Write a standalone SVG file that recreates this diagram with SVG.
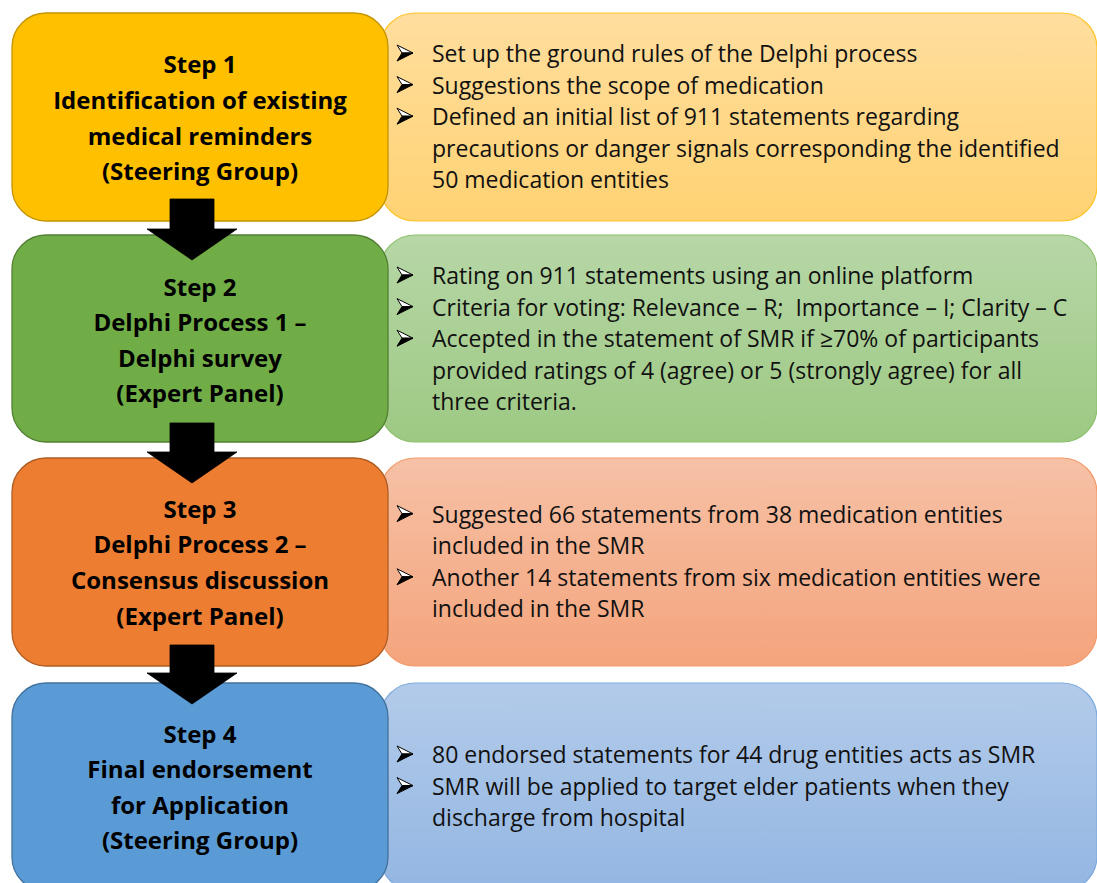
<svg xmlns="http://www.w3.org/2000/svg" width="1097" height="883" viewBox="0 0 1097 883">
  <style>
    .step { stroke-width: 1.3; }
    .notes { stroke-width: 1.2; }
    .title { font-family: "Open Sans", "Liberation Sans", sans-serif; font-weight: bold; font-size: 24px; fill: #000; text-anchor: middle; }
    .body { font-family: "Open Sans", "Liberation Sans", sans-serif; font-size: 23px; fill: #111; white-space: pre; }
    .arrow { fill: #000; stroke: #000; stroke-width: 0.8; }
  </style>
  <defs>
    <linearGradient id="gYellow" x1="0" y1="0" x2="0" y2="1">
      <stop offset="0" stop-color="#FFDE9E"/>
      <stop offset="1" stop-color="#FFD273"/>
    </linearGradient>
    <linearGradient id="gGreen" x1="0" y1="0" x2="0" y2="1">
      <stop offset="0" stop-color="#B7D7A7"/>
      <stop offset="1" stop-color="#9DC983"/>
    </linearGradient>
    <linearGradient id="gOrange" x1="0" y1="0" x2="0" y2="1">
      <stop offset="0" stop-color="#F6C1A6"/>
      <stop offset="1" stop-color="#F4A47C"/>
    </linearGradient>
    <linearGradient id="gBlue" x1="0" y1="0" x2="0" y2="1">
      <stop offset="0" stop-color="#B3CBEA"/>
      <stop offset="1" stop-color="#93B6E2"/>
    </linearGradient>
    <!-- 3D arrowhead bullet, drawn with its baseline at y=0 -->
    <g id="bullet">
      <polygon points="0,-16 16,-8 5,-8" fill="#FFFFFF" stroke="#000" stroke-width="1" stroke-linejoin="round"/>
      <polygon points="5,-8 16,-8 0,0" fill="#000" stroke="#000" stroke-width="1" stroke-linejoin="round"/>
    </g>
  </defs>

  <rect width="1097" height="883" fill="#FFFFFF"/>

  <!-- Step 1 -->
  <g id="step1-notes">
    <rect class="notes" x="380" y="13" width="717" height="208" rx="35" fill="url(#gYellow)" stroke="#FFC42A"/>
    <use href="#bullet" x="397" y="61"/>
    <use href="#bullet" x="397" y="92.6"/>
    <use href="#bullet" x="397" y="124.2"/>
    <text class="body" x="432" y="62">Set up the ground rules of the Delphi process</text>
    <text class="body" x="432" y="93.6">Suggestions the scope of medication</text>
    <text class="body" x="432" y="125.2">Defined an initial list of 911 statements regarding</text>
    <text class="body" x="432" y="156.8">precautions or danger signals corresponding the identified</text>
    <text class="body" x="432" y="188.4">50 medication entities</text>
  </g>
  <g id="step1">
    <rect class="step" x="12" y="13" width="376" height="208" rx="34" fill="#FFC000" stroke="#C49300"/>
    <text class="title" x="200" y="73">Step 1</text>
    <text class="title" x="200" y="109">Identification of existing</text>
    <text class="title" x="200" y="145">medical reminders</text>
    <text class="title" x="200" y="180">(Steering Group)</text>
  </g>

  <!-- Step 2 -->
  <g id="step2-notes">
    <rect class="notes" x="380" y="235" width="717" height="207" rx="35" fill="url(#gGreen)" stroke="#8CC06C"/>
    <use href="#bullet" x="397" y="283"/>
    <use href="#bullet" x="397" y="314.6"/>
    <use href="#bullet" x="397" y="346.2"/>
    <text class="body" x="432" y="284">Rating on 911 statements using an online platform</text>
    <text class="body" x="432" y="315.6">Criteria for voting: Relevance – R;  Importance – I; Clarity – C</text>
    <text class="body" x="432" y="347.2">Accepted in the statement of SMR if ≥70% of participants</text>
    <text class="body" x="432" y="378.8">provided ratings of 4 (agree) or 5 (strongly agree) for all</text>
    <text class="body" x="432" y="410.4">three criteria.</text>
  </g>
  <g id="step2">
    <rect class="step" x="12" y="235" width="376" height="207" rx="34" fill="#70AD47" stroke="#537F34"/>
    <text class="title" x="200" y="296">Step 2</text>
    <text class="title" x="200" y="331">Delphi Process 1 –</text>
    <text class="title" x="200" y="367">Delphi survey</text>
    <text class="title" x="200" y="402">(Expert Panel)</text>
  </g>

  <!-- Step 3 -->
  <g id="step3-notes">
    <rect class="notes" x="380" y="458" width="717" height="208" rx="35" fill="url(#gOrange)" stroke="#F39A6A"/>
    <use href="#bullet" x="397" y="521.6"/>
    <use href="#bullet" x="397" y="584.8"/>
    <text class="body" x="432" y="522.6">Suggested 66 statements from 38 medication entities</text>
    <text class="body" x="432" y="554.2">included in the SMR</text>
    <text class="body" x="432" y="585.8">Another 14 statements from six medication entities were</text>
    <text class="body" x="432" y="617.4">included in the SMR</text>
  </g>
  <g id="step3">
    <rect class="step" x="12" y="458" width="376" height="208" rx="34" fill="#ED7D31" stroke="#B05C23"/>
    <text class="title" x="200" y="518">Step 3</text>
    <text class="title" x="200" y="553">Delphi Process 2 –</text>
    <text class="title" x="200" y="589">Consensus discussion</text>
    <text class="title" x="200" y="625">(Expert Panel)</text>
  </g>

  <!-- Step 4 -->
  <g id="step4-notes">
    <rect class="notes" x="380" y="683" width="717" height="208" rx="35" fill="url(#gBlue)" stroke="#7EABDD"/>
    <use href="#bullet" x="397" y="762"/>
    <use href="#bullet" x="397" y="793.6"/>
    <text class="body" x="432" y="763">80 endorsed statements for 44 drug entities acts as SMR</text>
    <text class="body" x="432" y="794.6">SMR will be applied to target elder patients when they</text>
    <text class="body" x="432" y="826.2">discharge from hospital</text>
  </g>
  <g id="step4">
    <rect class="step" x="12" y="683" width="376" height="208" rx="34" fill="#5B9BD5" stroke="#41719C"/>
    <text class="title" x="200" y="743">Step 4</text>
    <text class="title" x="200" y="778">Final endorsement</text>
    <text class="title" x="200" y="814">for Application</text>
    <text class="title" x="200" y="849">(Steering Group)</text>
  </g>

  <!-- block arrows between the steps -->
  <g id="connectors">
    <polygon class="arrow" points="170,199 214,199 214,229 237,229 192,260 147,229 170,229"/>
    <polygon class="arrow" points="170,423 214,423 214,452 237,452 192,483 147,452 170,452"/>
    <polygon class="arrow" points="170,645 214,645 214,673 237,673 192,704 147,673 170,673"/>
  </g>
</svg>
